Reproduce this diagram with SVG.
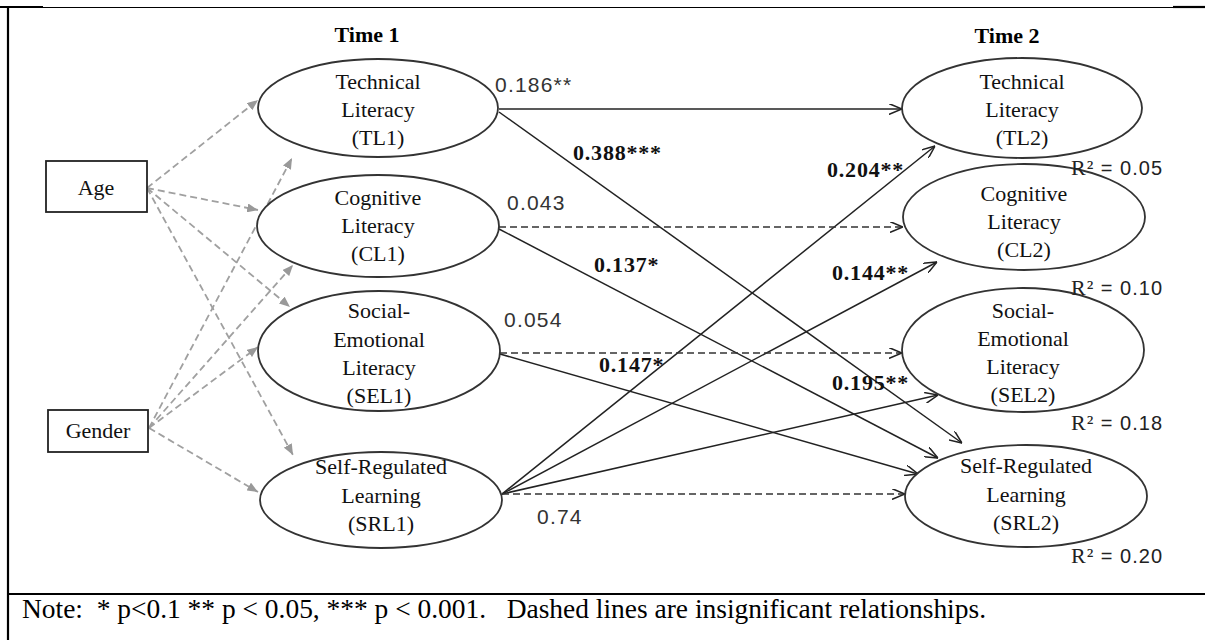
<svg xmlns="http://www.w3.org/2000/svg" width="1205" height="640" viewBox="0 0 1205 640">
<defs>
<style>
.lbl{font-family:"Liberation Serif","Times New Roman",serif;font-size:22px;fill:#111;text-anchor:middle}
.hdr{font-family:"Liberation Serif","Times New Roman",serif;font-size:22px;font-weight:bold;fill:#000;text-anchor:middle}
.coef{font-family:"Liberation Sans",Arial,sans-serif;font-size:21px;fill:#333;letter-spacing:1.2px}
.bcoef{font-family:"Liberation Serif","Times New Roman",serif;font-size:22px;font-weight:bold;fill:#111;letter-spacing:0.8px}
.r2{font-family:"Liberation Sans",Arial,sans-serif;font-size:20px;fill:#222;letter-spacing:1px}
.r2 .R{font-family:"Liberation Serif","Times New Roman",serif;font-size:22px}
.ell{fill:#fff;stroke:#333;stroke-width:1.8}
.box{fill:#fff;stroke:#222;stroke-width:1.8}
.sol{fill:none;stroke:#222;stroke-width:1.5;marker-end:url(#open)}
.dsh{fill:none;stroke:#333;stroke-width:1.5;stroke-dasharray:7 4;marker-end:url(#open)}
.gry{fill:none;stroke:#a0a0a0;stroke-width:1.8;stroke-dasharray:7 4;marker-end:url(#tri)}
.frame{stroke:#000;fill:none}
</style>
<marker id="open" viewBox="0 0 12 10" refX="12" refY="5" markerWidth="13" markerHeight="11" markerUnits="userSpaceOnUse" orient="auto">
<path d="M0,0 L12,5 L0,10" fill="none" stroke="#222" stroke-width="1.4"/>
</marker>
<marker id="tri" viewBox="0 0 12 10" refX="12" refY="5" markerWidth="11" markerHeight="9" markerUnits="userSpaceOnUse" orient="auto">
<path d="M0,0 L12,5 L0,10 Z" fill="#999"/>
</marker>
</defs>
<rect width="1205" height="640" fill="#fff"/>

<g id="frame">
<line class="frame" x1="8" y1="7" x2="8" y2="640" stroke-width="2.2"/>
<line class="frame" x1="7" y1="7.5" x2="1173" y2="7.5" stroke-width="1.2"/>
<line class="frame" x1="0" y1="7" x2="43" y2="7" stroke-width="2.2"/>
<line class="frame" x1="1173" y1="7" x2="1205" y2="7" stroke-width="2.2"/>
<line class="frame" x1="7" y1="594" x2="1205" y2="594" stroke-width="2.2"/>
</g>

<g id="headers">
<text class="hdr" x="367" y="42">Time 1</text>
<text class="hdr" x="1007" y="43">Time 2</text>
</g>

<g id="connectors">
<path class="gry" d="M147,188 L258,100"/>
<path class="gry" d="M147,188 L258,210"/>
<path class="gry" d="M147,188 L290,307"/>
<path class="gry" d="M147,188 L293,455"/>
<path class="gry" d="M149,428 L292,158"/>
<path class="gry" d="M149,428 L293,265"/>
<path class="gry" d="M149,428 L258,347"/>
<path class="gry" d="M149,428 L258,492"/>

<path class="sol" d="M499,109 L902,109"/>
<path class="sol" d="M499,112 L962,443"/>
<path class="sol" d="M499,229 L938,458"/>
<path class="sol" d="M500,354 L918,474"/>
<path class="sol" d="M502,494 L935,146"/>
<path class="sol" d="M502,494 L937,262"/>
<path class="sol" d="M502,494 L938,395"/>
<path class="dsh" d="M499,227 L903,227"/>
<path class="dsh" d="M500,353 L902,353"/>
<path class="dsh" d="M502,494 L905,494"/>
</g>

<g id="age">
<rect class="box" x="46" y="161" width="101" height="51"/>
<text class="lbl" x="96" y="195">Age</text>
</g>
<g id="gender">
<rect class="box" x="48" y="410" width="100" height="42"/>
<text class="lbl" x="98" y="438">Gender</text>
</g>

<g id="tl1">
<ellipse class="ell" cx="378" cy="108" rx="120" ry="49"/>
<text class="lbl" x="378" y="89">Technical</text>
<text class="lbl" x="378" y="117">Literacy</text>
<text class="lbl" x="378" y="145">(TL1)</text>
</g>
<g id="cl1">
<ellipse class="ell" cx="378" cy="226" rx="121" ry="51"/>
<text class="lbl" x="378" y="205">Cognitive</text>
<text class="lbl" x="378" y="233">Literacy</text>
<text class="lbl" x="378" y="261">(CL1)</text>
</g>
<g id="sel1">
<ellipse class="ell" cx="379" cy="351" rx="121" ry="60"/>
<text class="lbl" x="379" y="318">Social-</text>
<text class="lbl" x="379" y="347">Emotional</text>
<text class="lbl" x="379" y="375">Literacy</text>
<text class="lbl" x="379" y="403">(SEL1)</text>
</g>
<g id="srl1">
<ellipse class="ell" cx="381" cy="500" rx="121" ry="48"/>
<text class="lbl" x="381" y="474">Self-Regulated</text>
<text class="lbl" x="381" y="503">Learning</text>
<text class="lbl" x="381" y="531">(SRL1)</text>
</g>

<g id="tl2">
<ellipse class="ell" cx="1022" cy="108" rx="120" ry="50"/>
<text class="lbl" x="1022" y="89">Technical</text>
<text class="lbl" x="1022" y="117">Literacy</text>
<text class="lbl" x="1022" y="145">(TL2)</text>
</g>
<g id="cl2">
<ellipse class="ell" cx="1024" cy="217" rx="121" ry="53"/>
<text class="lbl" x="1024" y="201">Cognitive</text>
<text class="lbl" x="1024" y="229">Literacy</text>
<text class="lbl" x="1024" y="257">(CL2)</text>
</g>
<g id="sel2">
<ellipse class="ell" cx="1023" cy="350" rx="121" ry="62"/>
<text class="lbl" x="1023" y="318">Social-</text>
<text class="lbl" x="1023" y="346">Emotional</text>
<text class="lbl" x="1023" y="374">Literacy</text>
<text class="lbl" x="1023" y="402">(SEL2)</text>
</g>
<g id="srl2">
<ellipse class="ell" cx="1026" cy="496" rx="121" ry="51"/>
<text class="lbl" x="1026" y="473">Self-Regulated</text>
<text class="lbl" x="1026" y="502">Learning</text>
<text class="lbl" x="1026" y="530">(SRL2)</text>
</g>

<g id="coefficients">
<text class="coef" x="495" y="92">0.186**</text>
<text class="bcoef" x="573" y="160">0.388***</text>
<text class="coef" x="507" y="210">0.043</text>
<text class="bcoef" x="594" y="272">0.137*</text>
<text class="bcoef" x="827" y="177">0.204**</text>
<text class="bcoef" x="832" y="280">0.144**</text>
<text class="coef" x="504" y="327">0.054</text>
<text class="bcoef" x="599" y="372">0.147*</text>
<text class="bcoef" x="832" y="390">0.195**</text>
<text class="coef" x="537" y="524">0.74</text>
</g>

<g id="r2">
<text class="r2" x="1071" y="175"><tspan class="R">R²</tspan> = 0.05</text>
<text class="r2" x="1071" y="295"><tspan class="R">R²</tspan> = 0.10</text>
<text class="r2" x="1071" y="430"><tspan class="R">R²</tspan> = 0.18</text>
<text class="r2" x="1071" y="563"><tspan class="R">R²</tspan> = 0.20</text>
</g>

<g id="note">
<text x="22" y="618" font-family="Liberation Serif, Times New Roman, serif" font-size="27" fill="#000" xml:space="preserve" textLength="964" lengthAdjust="spacingAndGlyphs">Note:  * p&lt;0.1 ** p &lt; 0.05, *** p &lt; 0.001.   Dashed lines are insignificant relationships.</text>
</g>
</svg>
